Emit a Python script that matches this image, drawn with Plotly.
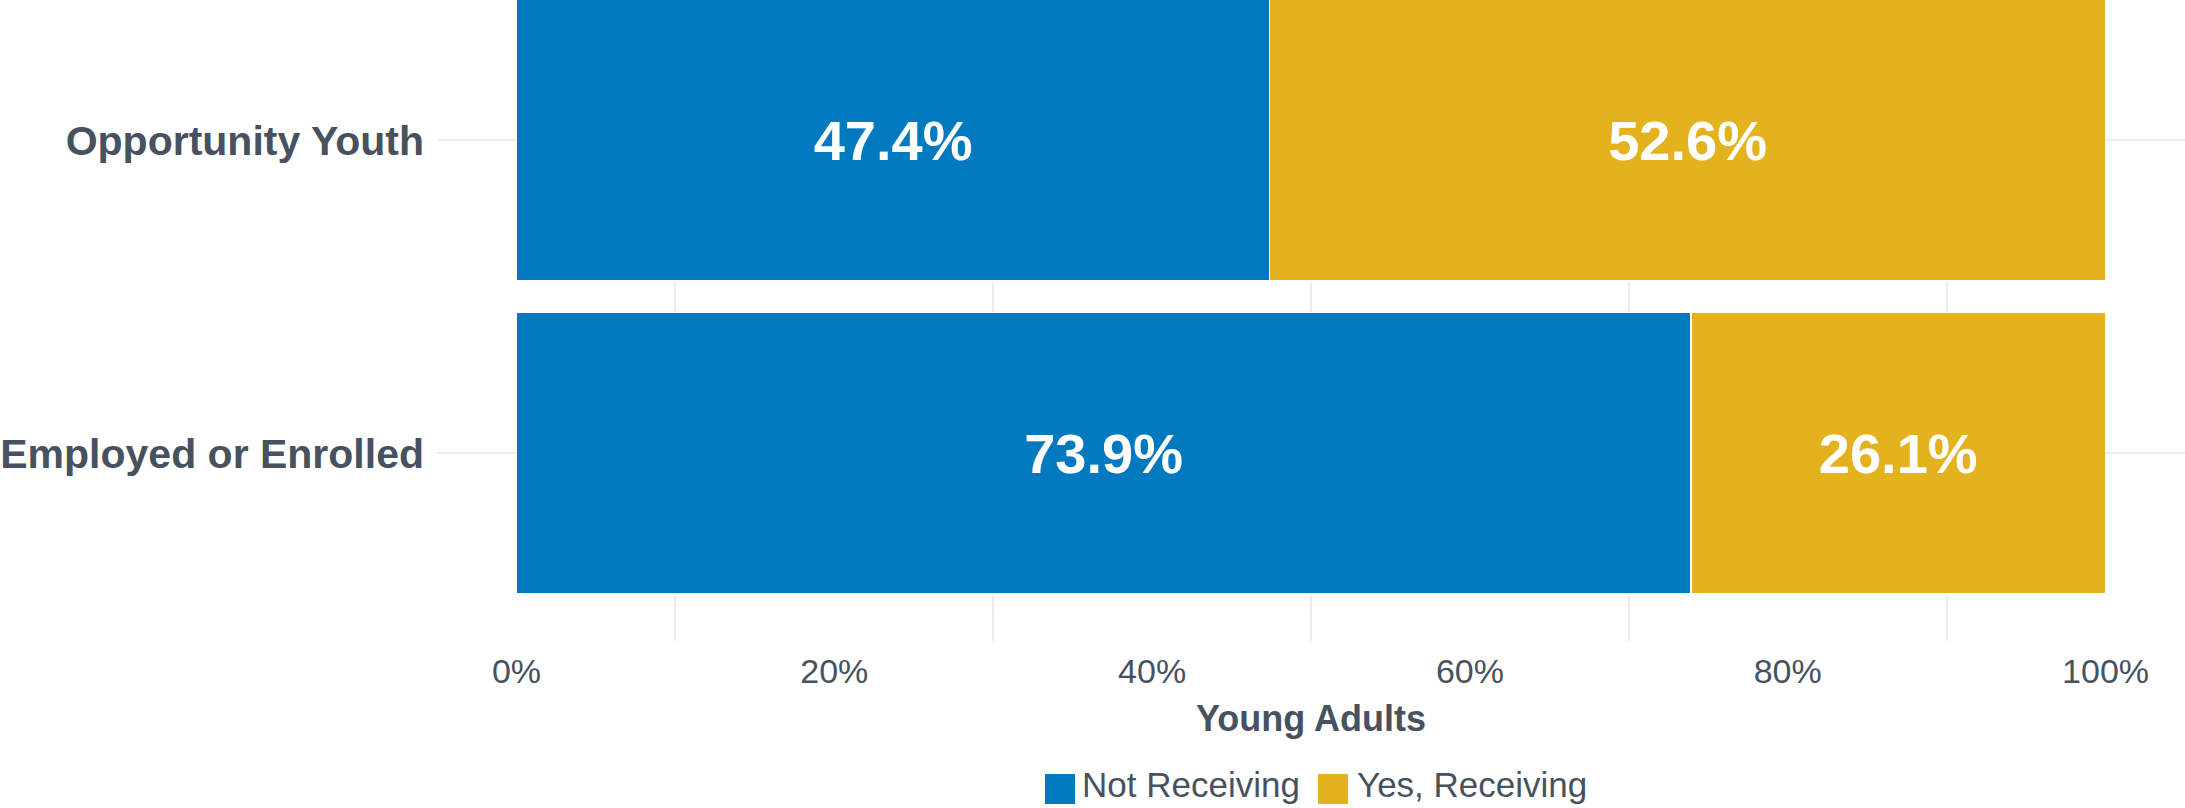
import plotly.graph_objects as go

categories = ["Employed or Enrolled", "Opportunity Youth"]
not_receiving = [73.9, 47.4]
yes_receiving = [26.1, 52.6]
series_names = ["Not Receiving", "Yes, Receiving"]
tick_values = [0, 20, 40, 60, 80, 100]
tick_labels = ["0%", "20%", "40%", "60%", "80%", "100%"]
grid_values = [10, 30, 50, 70, 90]

BLUE = "#0079BF"
GOLD = "#E3B21C"
TXT = "#475260"
FONT = "Liberation Sans, Arial, sans-serif"

W, H = 2185, 808
ML, MR, MT, MB = 437, 0, 0, 167
PW, PH = W - ML - MR, H - MT - MB

fig = go.Figure()
colors = [BLUE, GOLD]
for name, vals, col in zip(series_names, [not_receiving, yes_receiving], colors):
    fig.add_trace(go.Bar(
        y=categories, x=vals, name=name, orientation="h",
        marker=dict(color=col, line=dict(color="white", width=1.5)),
        width=0.9,
        text=[f"{v:.1f}%" for v in vals],
        textposition="inside", insidetextanchor="middle", textangle=0,
        textfont=dict(color="white", size=56, family=FONT, weight="bold"),
        hoverinfo="skip", showlegend=False,
    ))

# manual legend (large square keys like the reference)
def px_x(p):
    return (p - ML) / PW

def px_y(p):
    return (MT + PH - p) / PH

key_left_px = [1045, 1318]
text_left_px = [1080, 1355]
key_size = 30
key_center_y = 789
text_center_y = 784
for name, col, kx, tx in zip(series_names, colors, key_left_px, text_left_px):
    fig.add_shape(type="rect", xref="paper", yref="paper",
                  x0=px_x(kx), x1=px_x(kx + key_size),
                  y0=px_y(key_center_y + key_size / 2), y1=px_y(key_center_y - key_size / 2),
                  fillcolor=col, line=dict(width=0))
    fig.add_annotation(xref="paper", yref="paper", x=px_x(tx), y=px_y(text_center_y),
                       xanchor="left", yanchor="middle", text=name, showarrow=False,
                       font=dict(size=35, color=TXT, family=FONT))

fig.update_layout(
    barmode="stack",
    width=W, height=H,
    margin=dict(l=ML, r=MR, t=MT, b=MB),
    plot_bgcolor="white", paper_bgcolor="white",
    font=dict(family=FONT, color=TXT),
    showlegend=False,
    xaxis=dict(
        range=[-5, 105], tickvals=tick_values, ticktext=tick_labels,
        showgrid=False, zeroline=False, showline=False, ticks="",
        tickfont=dict(size=34, color=TXT, family=FONT),
        ticklabelstandoff=7,
        minor=dict(tickvals=grid_values, showgrid=True, gridcolor="#EBEBEB", gridwidth=1.5, ticks=""),
        title=dict(text="<b>Young Adults</b>", font=dict(size=36, color=TXT, family=FONT), standoff=16),
    ),
    yaxis=dict(
        type="category", categoryorder="array", categoryarray=categories,
        range=[-0.6, 1.449], showgrid=True, gridcolor="#EBEBEB", gridwidth=1.5,
        zeroline=False, showline=False, ticks="",
        tickfont=dict(size=41, color=TXT, family=FONT, weight="bold"),
        ticklabelstandoff=12,
    ),
)

fig.write_html(
    "out.html",
    config={"displayModeBar": False},
    post_script="document.body.style.margin='0';document.body.style.overflow='hidden';",
)
